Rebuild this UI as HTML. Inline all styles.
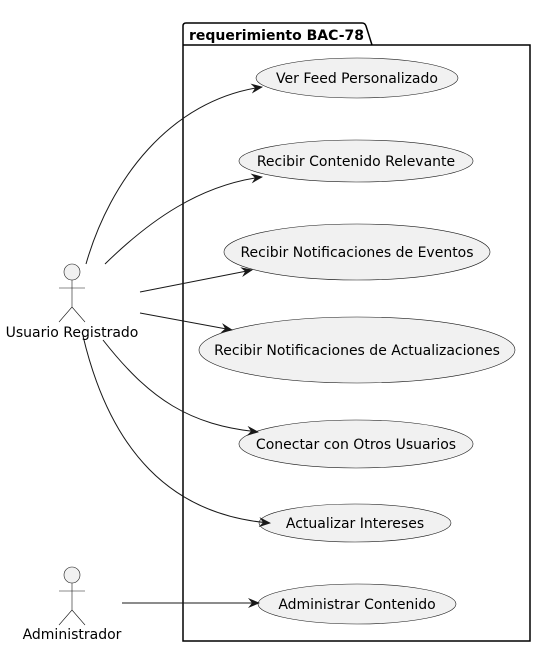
<!DOCTYPE html>
<html><head><meta charset="utf-8"><style>html,body{margin:0;padding:0;background:#fff}svg{display:block}</style></head><body>
<svg width="549" height="648" viewBox="0 0 549 648" xmlns="http://www.w3.org/2000/svg" font-family="DejaVu Sans, Liberation Sans, sans-serif">
<defs><marker id="a" viewBox="0 0 12 10" refX="11" refY="5" markerWidth="12" markerHeight="10" markerUnits="userSpaceOnUse" orient="auto"><path d="M0,0 L12,5 L0,10 L4,5 Z" fill="#181818"/></marker></defs>
<path d="M183,45 L183,641 L530,641 L530,45 L372,45 L366,26 Q365,23 362,23 L186,23 Q183,23 183,26 Z M183,45 L372,45" fill="none" stroke="#000" stroke-width="1.5"/>
<text x="189" y="40" font-size="14" font-weight="bold">requerimiento BAC-78</text>
<g fill="#f1f1f1" stroke="#181818" stroke-width="0.6">
<ellipse cx="357" cy="78" rx="101" ry="20"/>
<ellipse cx="356" cy="161" rx="117" ry="21"/>
<ellipse cx="357" cy="252" rx="133" ry="28"/>
<ellipse cx="357" cy="350" rx="158" ry="33"/>
<ellipse cx="356" cy="444" rx="117" ry="24"/>
<ellipse cx="355" cy="523" rx="96" ry="19"/>
<ellipse cx="357" cy="604" rx="99" ry="20"/>
</g>
<g font-size="14" text-anchor="middle" fill="#000">
<text x="357" y="83">Ver Feed Personalizado</text>
<text x="356" y="166">Recibir Contenido Relevante</text>
<text x="357" y="257">Recibir Notificaciones de Eventos</text>
<text x="357" y="355">Recibir Notificaciones de Actualizaciones</text>
<text x="356" y="449">Conectar con Otros Usuarios</text>
<text x="355" y="528">Actualizar Intereses</text>
<text x="357" y="609">Administrar Contenido</text>
</g>
<g fill="none" stroke="#181818" stroke-width="1" marker-end="url(#a)">
<path d="M86,264 C110,180 170,100 262,87"/>
<path d="M105,264 C150,220 200,185 262,177"/>
<path d="M140,292 L252,270"/>
<path d="M140,313 L232,330"/>
<path d="M103,340 C150,400 190,425 258,432"/>
<path d="M83,336 C110,450 170,515 270,523"/>
<path d="M122,603 L259,603"/>
</g>
<g fill="#f1f1f1" stroke="#181818" stroke-width="0.6">
<circle cx="72" cy="272" r="8"/>
<path d="M72,280 V307 M59,288 H85 M59,322 L72,307 L85,322" fill="none"/>
<circle cx="72" cy="575" r="8"/>
<path d="M72,583 V610 M59,591 H85 M59,625 L72,610 L85,625" fill="none"/>
</g>
<g font-size="14" text-anchor="middle">
<text x="72" y="337">Usuario Registrado</text>
<text x="72" y="639">Administrador</text>
</g>
</svg>
</body></html>
